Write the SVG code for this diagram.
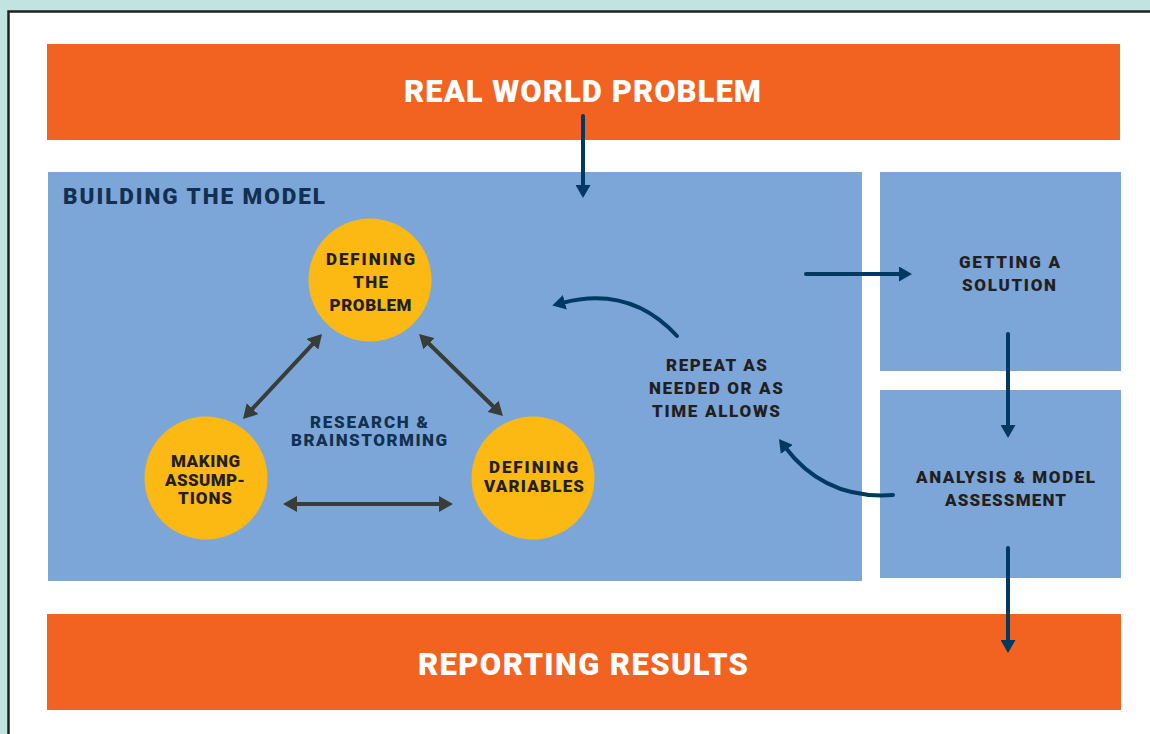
<svg xmlns="http://www.w3.org/2000/svg" width="1150" height="734" viewBox="0 0 1150 734">
<style>
.t{font-family:Roboto,"Liberation Sans",sans-serif;font-weight:900;text-anchor:middle}
.big{font-size:31px;fill:#ffffff}
.node{font-size:17px;fill:#231f20}
.navytxt{fill:#12304f}
.blue{fill:#7da6d8}
.orange{fill:#f26322}
.circ{fill:#fdb913}
.nav{stroke:#003a63;stroke-width:4;fill:none;stroke-linecap:round}
.nav-s{marker-end:url(#navHead)}
.gray{stroke:#383d38;stroke-width:4;fill:none;marker-start:url(#grayHead);marker-end:url(#grayHead)}
</style>
<defs>
<marker id="navHead" viewBox="0 0 13 15" markerWidth="13" markerHeight="15" refX="3" refY="7.5" orient="auto" markerUnits="userSpaceOnUse">
<path d="M0,0 L13,7.5 L0,15 z" fill="#003a63"/>
</marker>
<marker id="grayHead" viewBox="0 0 14 16" markerWidth="14" markerHeight="16" refX="4" refY="8" orient="auto-start-reverse" markerUnits="userSpaceOnUse">
<path d="M0,0 L14,8 L0,16 z" fill="#383d38"/>
</marker>
</defs>
<rect x="0" y="0" width="1150" height="734" fill="#c2e4e1"/>
<rect x="8.5" y="11.5" width="1160" height="740" fill="#ffffff" stroke="#222222" stroke-width="2.5"/>

<g id="real-world-problem">
<rect class="orange" x="47" y="44" width="1073" height="96"/>
<text class="t big" x="582.5" y="102" textLength="357" lengthAdjust="spacing">REAL WORLD PROBLEM</text>
</g>

<g id="building-the-model">
<rect class="blue" x="48" y="172" width="814" height="409"/>
<text class="t navytxt" x="63" y="204" style="font-size:22.5px;text-anchor:start" textLength="262" lengthAdjust="spacing">BUILDING THE MODEL</text>
</g>

<g id="getting-a-solution">
<rect class="blue" x="880" y="172" width="241" height="199"/>
<text class="t node" x="1009.5" y="268" textLength="101" lengthAdjust="spacing">GETTING A</text>
<text class="t node" x="1009" y="291" textLength="94" lengthAdjust="spacing">SOLUTION</text>
</g>

<g id="analysis">
<rect class="blue" x="880" y="390" width="241" height="188"/>
<text class="t node" x="1005.5" y="483" textLength="179" lengthAdjust="spacing">ANALYSIS &amp; MODEL</text>
<text class="t node" x="1005.5" y="506" textLength="121" lengthAdjust="spacing">ASSESSMENT</text>
</g>

<g id="reporting-results">
<rect class="orange" x="47" y="614" width="1074" height="96"/>
<text class="t big" x="583" y="675" textLength="330" lengthAdjust="spacing">REPORTING RESULTS</text>
</g>

<g id="defining-the-problem">
<circle class="circ" cx="370" cy="280" r="61.5"/>
<text class="t node" x="370.5" y="265" textLength="89" lengthAdjust="spacing">DEFINING</text>
<text class="t node" x="370.5" y="288" textLength="35" lengthAdjust="spacing">THE</text>
<text class="t node" x="370.5" y="311" textLength="82" lengthAdjust="spacing">PROBLEM</text>
</g>

<g id="making-assumptions">
<circle class="circ" cx="206" cy="478" r="61.5"/>
<text class="t node" x="205.5" y="467" textLength="69" lengthAdjust="spacing">MAKING</text>
<text class="t node" x="205" y="485.5" textLength="80" lengthAdjust="spacing">ASSUMP-</text>
<text class="t node" x="205" y="504" textLength="54" lengthAdjust="spacing">TIONS</text>
</g>

<g id="defining-variables">
<circle class="circ" cx="533" cy="478" r="61.5"/>
<text class="t node" x="533.5" y="473" textLength="89" lengthAdjust="spacing">DEFINING</text>
<text class="t node" x="534" y="492" textLength="100" lengthAdjust="spacing">VARIABLES</text>
</g>

<g id="research-label">
<text class="t node navytxt" x="369" y="428" textLength="118" lengthAdjust="spacing">RESEARCH &amp;</text>
<text class="t node navytxt" x="369" y="446" textLength="156" lengthAdjust="spacing">BRAINSTORMING</text>
</g>

<g id="repeat-label">
<text class="t node" x="716.5" y="371" textLength="101" lengthAdjust="spacing">REPEAT AS</text>
<text class="t node" x="716" y="394" textLength="134" lengthAdjust="spacing">NEEDED OR AS</text>
<text class="t node" x="716" y="417" textLength="128" lengthAdjust="spacing">TIME ALLOWS</text>
</g>

<g id="connectors">
<line class="nav nav-s" x1="583" y1="116" x2="583" y2="188"/>
<line class="nav nav-s" x1="806" y1="274" x2="902" y2="274"/>
<line class="nav nav-s" x1="1008" y1="334" x2="1008" y2="428"/>
<line class="nav nav-s" x1="1008" y1="548" x2="1008" y2="643"/>
<path class="nav nav-s" d="M677,336 Q630,285 562,303"/>
<path class="nav nav-s" d="M893,495 Q825,500 785,447"/>
<line class="gray" x1="249.8" y1="411.7" x2="315.2" y2="341.3"/>
<line class="gray" x1="426.2" y1="341" x2="495.8" y2="409"/>
<line class="gray" x1="293" y1="504" x2="443" y2="504"/>
</g>
</svg>
